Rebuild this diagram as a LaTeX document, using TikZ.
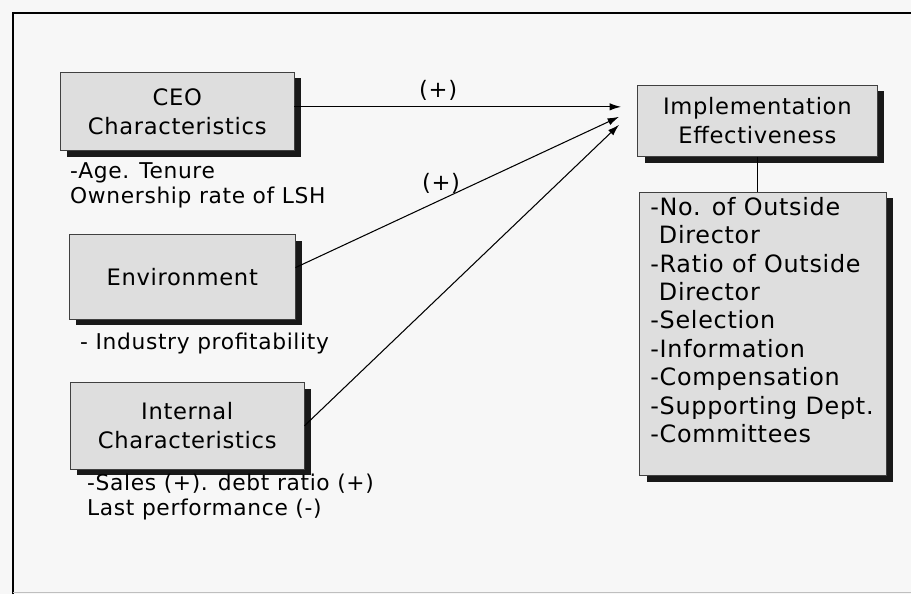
\documentclass[tikz,border=0pt]{standalone}
\usepackage{fontspec}
\setmainfont{DejaVu Sans}[LetterSpace=3]
\usetikzlibrary{shadows,arrows.meta}

\begin{document}
\begin{tikzpicture}[x=0.02cm,y=-0.02cm,>={Latex[length=6.5pt,width=4.2pt]},
    font=\fontsize{12.9}{16.6}\selectfont,
    factor/.style={draw=black!75,fill=black!13,align=center,inner sep=0pt,
      drop shadow={shadow xshift=4pt,shadow yshift=-3.4pt,fill=black!90,opacity=1}},
    note/.style={anchor=north west,align=left,inner sep=0pt,
      font=\fontsize{12.4}{14.2}\selectfont}]
  \fill[black!3] (0,0) rectangle (912,595);
  \draw[line width=1.6pt] (13,595) -- (13,13) -- (912,13);
  \draw[black!25] (13,593) -- (912,593);

  \node[factor, minimum width=133.2pt, minimum height=44.8pt] (CEO) at (177.5,111.5) {CEO\\Characteristics};
  \node[factor, minimum width=128.7pt, minimum height=48.2pt] (Env) at (182.5,277.5) {Environment};
  \node[factor, minimum width=133.2pt, minimum height=49.3pt] (Int) at (187.5,426.5) {Internal\\Characteristics};
  \node[factor, minimum width=136.6pt, minimum height=40.8pt] (Imp) at (758.5,121) {Implementation\\Effectiveness};
  \node[factor, minimum width=140.6pt, minimum height=161.6pt] (Lst) at (764,334.5) {};
  \node[note, font=\fontsize{13.6}{16.2}\selectfont] (LstText) at (651,197)
    {-No. of Outside\\\phantom{-}Director\\-Ratio of Outside\\\phantom{-}Director\\-Selection\\-Information\\-Compensation\\-Supporting Dept.\\-Committees};

  \node[note] (CEOn) at (70,163) {-Age. Tenure\\Ownership rate of LSH};
  \node[note] (Envn) at (80,333) {- Industry profitability};
  \node[note] (Intn) at (87,474) {-Sales (+). debt ratio (+)\\Last performance (-)};

  \coordinate (tA) at (622,107);
  \coordinate (tB) at (620,117);
  \coordinate (tC) at (620,125);
  \draw[->,line width=0.6pt] (CEO.east |- tA) -- node[pos=.44,above]{(+)} (tA);
  \draw[->,line width=0.6pt] ([yshift=5.4pt]Env.east) -- node[pos=.45,above]{(+)} (tB);
  \draw[->,line width=0.6pt] (Int.east) -- (tC);
  \draw[line width=0.6pt] (Imp.south) -- (Imp.south |- Lst.north);
\end{tikzpicture}
\end{document}
